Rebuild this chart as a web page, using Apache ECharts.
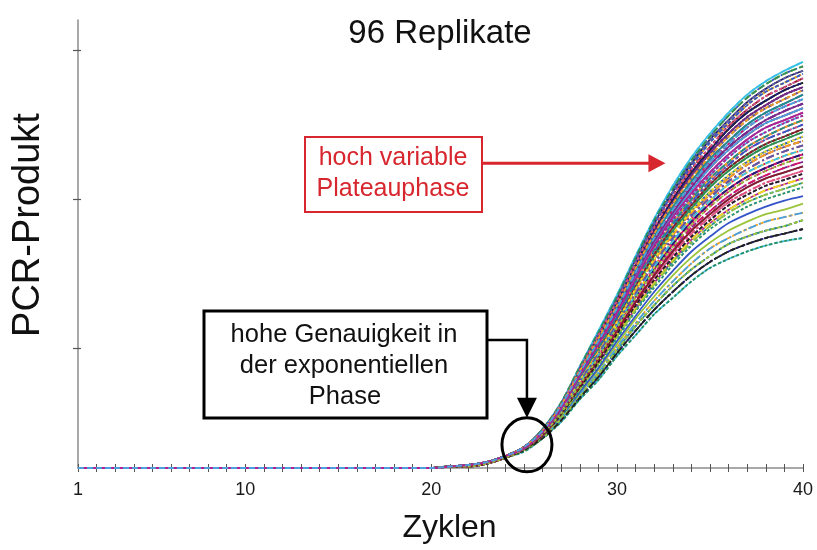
<!DOCTYPE html>
<html>
<head>
<meta charset="utf-8">
<title>96 Replikate</title>
<script src="https://cdn.jsdelivr.net/npm/echarts@6/dist/echarts.min.js"></script>
<style>
  html, body { margin: 0; padding: 0; background: #ffffff; }
  #chart { width: 817px; height: 550px; }
</style>
</head>
<body>
<div id="chart"></div>
<script>
// PCR cycles on the x axis
const cycles = [1,2,3,4,5,6,7,8,9,10,11,12,13,14,15,16,17,18,19,20,
                21,22,23,24,25,26,27,28,29,30,31,32,33,34,35,36,37,38,39,40];
const cycleLabels = [1, 10, 20, 30, 40];
const productTicks = [0.8, 1.8, 2.8];

// Baseline signal, cycles 1-20 (identical for all wells)
const baselineSignal = [0,0,0,0,0,0,0,0,0,0,0,0,0,0,0,0,0,0,0,0];

// Well identifiers of the 96-well plate
const wellIds = [];
['A','B','C','D','E','F','G','H'].forEach(r => { for (let c = 1; c <= 12; c++) wellIds.push(r + c); });

// PCR product per well, cycles 21-40
const wellSignal = [
  [0.01,0.02,0.04,0.08,0.14,0.26,0.44,0.68,0.92,1.16,1.42,1.67,1.89,2.08,2.24,2.38,2.50,2.59,2.66,2.72],
  [0.01,0.01,0.03,0.07,0.13,0.23,0.37,0.56,0.75,0.95,1.15,1.33,1.50,1.65,1.77,1.87,1.95,2.01,2.06,2.10],
  [0.01,0.02,0.04,0.08,0.14,0.25,0.41,0.63,0.84,1.05,1.29,1.51,1.70,1.86,2.01,2.13,2.23,2.31,2.36,2.41],
  [0.01,0.01,0.03,0.07,0.12,0.22,0.35,0.52,0.69,0.87,1.05,1.21,1.36,1.49,1.60,1.68,1.75,1.80,1.84,1.88],
  [0.01,0.02,0.04,0.08,0.14,0.25,0.42,0.65,0.87,1.10,1.35,1.58,1.78,1.96,2.11,2.24,2.35,2.43,2.50,2.55],
  [0.01,0.02,0.04,0.08,0.13,0.24,0.39,0.60,0.79,0.99,1.21,1.42,1.59,1.74,1.88,1.99,2.08,2.15,2.20,2.25],
  [0.01,0.01,0.03,0.07,0.12,0.20,0.32,0.47,0.61,0.77,0.92,1.06,1.18,1.29,1.38,1.45,1.50,1.54,1.57,1.60],
  [0.01,0.02,0.04,0.08,0.14,0.26,0.44,0.68,0.91,1.15,1.41,1.66,1.87,2.06,2.22,2.36,2.48,2.57,2.64,2.69],
  [0.01,0.01,0.03,0.07,0.13,0.22,0.36,0.54,0.72,0.91,1.10,1.27,1.43,1.57,1.68,1.78,1.85,1.91,1.95,1.99],
  [0.01,0.02,0.04,0.08,0.13,0.24,0.39,0.60,0.80,1.00,1.22,1.43,1.61,1.76,1.90,2.01,2.10,2.17,2.22,2.27],
  [0.01,0.02,0.04,0.08,0.14,0.25,0.42,0.64,0.86,1.08,1.32,1.55,1.75,1.92,2.07,2.19,2.30,2.38,2.44,2.50],
  [0.01,0.01,0.03,0.07,0.12,0.21,0.33,0.49,0.64,0.81,0.97,1.12,1.25,1.37,1.47,1.54,1.60,1.65,1.68,1.71],
  [0.01,0.02,0.04,0.08,0.13,0.23,0.39,0.59,0.78,0.98,1.19,1.39,1.56,1.71,1.83,1.94,2.03,2.10,2.15,2.19],
  [0.01,0.02,0.04,0.08,0.14,0.26,0.43,0.67,0.90,1.13,1.39,1.63,1.84,2.02,2.18,2.31,2.43,2.52,2.58,2.64],
  [0.01,0.01,0.03,0.07,0.12,0.22,0.36,0.53,0.70,0.89,1.07,1.24,1.39,1.53,1.64,1.73,1.80,1.86,1.90,1.94],
  [0.01,0.02,0.04,0.08,0.13,0.24,0.40,0.62,0.82,1.03,1.26,1.48,1.66,1.82,1.96,2.08,2.18,2.25,2.31,2.36],
  [0.01,0.01,0.03,0.07,0.11,0.20,0.31,0.46,0.59,0.75,0.89,1.03,1.14,1.25,1.34,1.40,1.45,1.49,1.52,1.54],
  [0.01,0.02,0.04,0.08,0.14,0.25,0.41,0.63,0.84,1.06,1.30,1.52,1.71,1.88,2.03,2.15,2.25,2.33,2.39,2.44],
  [0.01,0.01,0.03,0.07,0.13,0.23,0.38,0.57,0.76,0.96,1.16,1.35,1.52,1.67,1.79,1.90,1.98,2.04,2.09,2.13],
  [0.01,0.02,0.04,0.08,0.14,0.26,0.43,0.67,0.90,1.14,1.40,1.64,1.85,2.04,2.20,2.33,2.45,2.54,2.61,2.66],
  [0.01,0.01,0.03,0.07,0.13,0.22,0.37,0.55,0.73,0.93,1.12,1.30,1.46,1.61,1.72,1.82,1.90,1.96,2.01,2.05],
  [0.01,0.02,0.04,0.08,0.13,0.23,0.39,0.59,0.78,0.98,1.20,1.40,1.57,1.72,1.85,1.96,2.05,2.12,2.17,2.22],
  [0.01,0.02,0.04,0.08,0.14,0.25,0.43,0.66,0.88,1.11,1.36,1.60,1.80,1.98,2.13,2.27,2.38,2.46,2.53,2.58],
  [0.01,0.01,0.03,0.07,0.12,0.20,0.33,0.48,0.63,0.79,0.95,1.09,1.22,1.33,1.42,1.50,1.55,1.59,1.62,1.66],
  [0.01,0.02,0.04,0.08,0.13,0.24,0.40,0.61,0.81,1.02,1.25,1.46,1.64,1.80,1.94,2.05,2.15,2.22,2.28,2.33],
  [0.01,0.02,0.04,0.08,0.14,0.25,0.42,0.65,0.87,1.09,1.34,1.57,1.77,1.94,2.09,2.22,2.33,2.41,2.47,2.53],
  [0.01,0.01,0.03,0.07,0.12,0.22,0.35,0.53,0.70,0.88,1.06,1.23,1.38,1.51,1.62,1.71,1.78,1.83,1.87,1.91],
  [0.01,0.02,0.04,0.08,0.13,0.23,0.38,0.58,0.77,0.97,1.17,1.37,1.54,1.69,1.81,1.92,2.00,2.07,2.12,2.16],
  [0.01,0.02,0.04,0.08,0.14,0.25,0.43,0.66,0.89,1.12,1.37,1.61,1.82,2.00,2.15,2.29,2.40,2.49,2.55,2.61],
  [0.01,0.01,0.03,0.07,0.12,0.21,0.34,0.50,0.66,0.83,1.00,1.15,1.29,1.41,1.51,1.59,1.65,1.70,1.73,1.77],
  [0.01,0.02,0.04,0.08,0.13,0.24,0.40,0.62,0.83,1.04,1.27,1.49,1.68,1.84,1.98,2.10,2.20,2.28,2.33,2.38],
  [0.01,0.02,0.04,0.08,0.13,0.24,0.40,0.61,0.81,1.01,1.24,1.45,1.63,1.78,1.92,2.03,2.13,2.20,2.25,2.30],

  [0.01,0.02,0.04,0.08,0.14,0.25,0.42,0.64,0.85,1.07,1.31,1.54,1.73,1.90,2.05,2.17,2.28,2.36,2.42,2.47],
  [0.01,0.01,0.03,0.07,0.12,0.20,0.32,0.47,0.61,0.77,0.92,1.06,1.18,1.29,1.38,1.45,1.50,1.54,1.57,1.60],
  [0.01,0.01,0.03,0.07,0.13,0.23,0.37,0.56,0.75,0.95,1.15,1.33,1.50,1.65,1.77,1.87,1.95,2.01,2.06,2.10],
  [0.01,0.02,0.04,0.08,0.14,0.26,0.44,0.68,0.91,1.15,1.41,1.66,1.87,2.06,2.22,2.36,2.48,2.57,2.64,2.69],
  [0.01,0.01,0.03,0.07,0.12,0.22,0.36,0.54,0.71,0.90,1.09,1.26,1.41,1.55,1.66,1.76,1.83,1.89,1.93,1.97],
  [0.01,0.02,0.04,0.08,0.13,0.24,0.39,0.60,0.80,1.00,1.22,1.43,1.61,1.76,1.90,2.01,2.10,2.17,2.22,2.27],
  [0.01,0.02,0.04,0.08,0.14,0.25,0.42,0.65,0.87,1.10,1.35,1.58,1.78,1.96,2.11,2.24,2.35,2.43,2.50,2.55],
  [0.01,0.01,0.03,0.07,0.12,0.21,0.34,0.51,0.67,0.85,1.02,1.18,1.32,1.45,1.55,1.64,1.70,1.75,1.79,1.82],
  [0.01,0.02,0.04,0.08,0.13,0.23,0.39,0.59,0.78,0.98,1.19,1.39,1.56,1.71,1.83,1.94,2.03,2.10,2.15,2.19],
  [0.01,0.02,0.04,0.08,0.14,0.25,0.41,0.63,0.84,1.05,1.29,1.51,1.70,1.86,2.01,2.13,2.23,2.31,2.36,2.41],
  [0.01,0.01,0.03,0.07,0.12,0.20,0.33,0.48,0.63,0.79,0.95,1.09,1.22,1.33,1.42,1.50,1.55,1.59,1.62,1.66],
  [0.01,0.02,0.04,0.08,0.14,0.26,0.43,0.67,0.90,1.13,1.39,1.63,1.84,2.02,2.18,2.31,2.43,2.52,2.58,2.64],
  [0.01,0.01,0.03,0.07,0.13,0.22,0.37,0.55,0.73,0.92,1.11,1.29,1.45,1.59,1.70,1.80,1.88,1.94,1.98,2.02],
  [0.01,0.02,0.04,0.08,0.13,0.24,0.39,0.60,0.79,0.99,1.21,1.42,1.59,1.74,1.88,1.99,2.08,2.15,2.20,2.25],
  [0.01,0.02,0.04,0.08,0.14,0.25,0.42,0.64,0.86,1.08,1.32,1.55,1.75,1.92,2.07,2.19,2.30,2.38,2.44,2.50],
  [0.01,0.01,0.03,0.07,0.12,0.21,0.33,0.49,0.64,0.81,0.97,1.12,1.25,1.37,1.47,1.54,1.60,1.65,1.68,1.71],
  [0.01,0.02,0.04,0.08,0.13,0.24,0.40,0.62,0.82,1.03,1.26,1.48,1.66,1.82,1.96,2.08,2.18,2.25,2.31,2.36],
  [0.01,0.02,0.04,0.08,0.14,0.26,0.43,0.67,0.90,1.14,1.40,1.64,1.85,2.04,2.20,2.33,2.45,2.54,2.61,2.66],
  [0.01,0.01,0.03,0.07,0.13,0.23,0.37,0.56,0.74,0.94,1.14,1.32,1.48,1.63,1.75,1.85,1.93,1.99,2.04,2.08],
  [0.01,0.01,0.03,0.07,0.13,0.23,0.38,0.57,0.76,0.96,1.16,1.35,1.52,1.67,1.79,1.90,1.98,2.04,2.09,2.13],
  [0.01,0.02,0.04,0.08,0.14,0.25,0.41,0.63,0.84,1.06,1.30,1.52,1.71,1.88,2.03,2.15,2.25,2.33,2.39,2.44],
  [0.01,0.01,0.03,0.07,0.11,0.20,0.31,0.46,0.59,0.75,0.89,1.03,1.14,1.25,1.34,1.40,1.45,1.49,1.52,1.54],
  [0.01,0.02,0.04,0.08,0.14,0.25,0.43,0.66,0.88,1.11,1.36,1.60,1.80,1.98,2.13,2.27,2.38,2.46,2.53,2.58],
  [0.01,0.02,0.04,0.08,0.13,0.23,0.39,0.59,0.78,0.98,1.20,1.40,1.57,1.72,1.85,1.96,2.05,2.12,2.17,2.22],
  [0.01,0.02,0.04,0.08,0.13,0.24,0.40,0.61,0.81,1.01,1.24,1.45,1.63,1.78,1.92,2.03,2.13,2.20,2.25,2.30],
  [0.01,0.02,0.04,0.08,0.14,0.25,0.43,0.66,0.89,1.12,1.37,1.61,1.82,2.00,2.15,2.29,2.40,2.49,2.55,2.61],
  [0.01,0.01,0.03,0.07,0.12,0.22,0.35,0.52,0.69,0.87,1.05,1.21,1.36,1.49,1.60,1.68,1.75,1.80,1.84,1.88],
  [0.01,0.02,0.04,0.08,0.13,0.24,0.40,0.61,0.81,1.02,1.25,1.46,1.64,1.80,1.94,2.05,2.15,2.22,2.28,2.33],
  [0.01,0.02,0.04,0.08,0.14,0.25,0.42,0.65,0.87,1.09,1.34,1.57,1.77,1.94,2.09,2.22,2.33,2.41,2.47,2.53],
  [0.01,0.01,0.03,0.07,0.12,0.20,0.33,0.48,0.63,0.79,0.95,1.09,1.22,1.33,1.42,1.50,1.55,1.59,1.62,1.66],
  [0.01,0.02,0.04,0.08,0.13,0.23,0.38,0.58,0.77,0.97,1.17,1.37,1.54,1.69,1.81,1.92,2.00,2.07,2.12,2.16],
  [0.01,0.02,0.04,0.08,0.13,0.24,0.40,0.62,0.83,1.04,1.27,1.49,1.68,1.84,1.98,2.10,2.20,2.28,2.33,2.38],

  [0.01,0.02,0.04,0.08,0.14,0.26,0.44,0.68,0.92,1.16,1.42,1.67,1.89,2.08,2.24,2.38,2.50,2.59,2.66,2.72],
  [0.01,0.01,0.03,0.07,0.13,0.23,0.37,0.56,0.75,0.95,1.15,1.33,1.50,1.65,1.77,1.87,1.95,2.01,2.06,2.10],
  [0.01,0.02,0.04,0.08,0.14,0.25,0.42,0.64,0.85,1.07,1.31,1.54,1.73,1.90,2.05,2.17,2.28,2.36,2.42,2.47],
  [0.01,0.01,0.03,0.07,0.12,0.22,0.36,0.53,0.70,0.89,1.07,1.24,1.39,1.53,1.64,1.73,1.80,1.86,1.90,1.94],
  [0.01,0.02,0.04,0.08,0.14,0.25,0.42,0.65,0.87,1.10,1.35,1.58,1.78,1.96,2.11,2.24,2.35,2.43,2.50,2.55],
  [0.01,0.02,0.04,0.08,0.13,0.24,0.39,0.60,0.79,0.99,1.21,1.42,1.59,1.74,1.88,1.99,2.08,2.15,2.20,2.25],
  [0.01,0.01,0.03,0.07,0.12,0.20,0.32,0.47,0.61,0.77,0.92,1.06,1.18,1.29,1.38,1.45,1.50,1.54,1.57,1.60],
  [0.01,0.02,0.04,0.08,0.14,0.26,0.43,0.67,0.90,1.13,1.39,1.63,1.84,2.02,2.18,2.31,2.43,2.52,2.58,2.64],
  [0.01,0.01,0.03,0.07,0.13,0.22,0.36,0.54,0.72,0.91,1.10,1.27,1.43,1.57,1.68,1.78,1.85,1.91,1.95,1.99],
  [0.01,0.02,0.04,0.08,0.13,0.24,0.39,0.60,0.80,1.00,1.22,1.43,1.61,1.76,1.90,2.01,2.10,2.17,2.22,2.27],
  [0.01,0.02,0.04,0.08,0.14,0.25,0.42,0.64,0.86,1.08,1.32,1.55,1.75,1.92,2.07,2.19,2.30,2.38,2.44,2.50],
  [0.01,0.02,0.04,0.08,0.13,0.23,0.39,0.59,0.78,0.98,1.19,1.39,1.56,1.71,1.83,1.94,2.03,2.10,2.15,2.19],
  [0.01,0.02,0.04,0.08,0.14,0.26,0.43,0.67,0.90,1.14,1.40,1.64,1.85,2.04,2.20,2.33,2.45,2.54,2.61,2.66],
  [0.01,0.01,0.03,0.07,0.12,0.22,0.35,0.53,0.70,0.88,1.06,1.23,1.38,1.51,1.62,1.71,1.78,1.83,1.87,1.91],
  [0.01,0.02,0.04,0.08,0.13,0.24,0.40,0.62,0.82,1.03,1.26,1.48,1.66,1.82,1.96,2.08,2.18,2.25,2.31,2.36],
  [0.01,0.02,0.04,0.08,0.14,0.25,0.41,0.63,0.84,1.05,1.29,1.51,1.70,1.86,2.01,2.13,2.23,2.31,2.36,2.41],
  [0.01,0.01,0.03,0.07,0.13,0.23,0.38,0.57,0.76,0.96,1.16,1.35,1.52,1.67,1.79,1.90,1.98,2.04,2.09,2.13],
  [0.01,0.02,0.04,0.08,0.14,0.25,0.43,0.66,0.88,1.11,1.36,1.60,1.80,1.98,2.13,2.27,2.38,2.46,2.53,2.58],
  [0.01,0.01,0.03,0.07,0.13,0.22,0.37,0.55,0.73,0.93,1.12,1.30,1.46,1.61,1.72,1.82,1.90,1.96,2.01,2.05],
  [0.01,0.02,0.04,0.08,0.13,0.23,0.39,0.59,0.78,0.98,1.20,1.40,1.57,1.72,1.85,1.96,2.05,2.12,2.17,2.22],
  [0.01,0.02,0.04,0.08,0.14,0.25,0.41,0.63,0.84,1.06,1.30,1.52,1.71,1.88,2.03,2.15,2.25,2.33,2.39,2.44],
  [0.01,0.02,0.04,0.08,0.14,0.26,0.44,0.68,0.91,1.15,1.41,1.66,1.87,2.06,2.22,2.36,2.48,2.57,2.64,2.69],
  [0.01,0.01,0.03,0.07,0.12,0.22,0.36,0.54,0.71,0.90,1.09,1.26,1.41,1.55,1.66,1.76,1.83,1.89,1.93,1.97],
  [0.01,0.02,0.04,0.08,0.13,0.24,0.40,0.61,0.81,1.01,1.24,1.45,1.63,1.78,1.92,2.03,2.13,2.20,2.25,2.30],
  [0.01,0.02,0.04,0.08,0.14,0.25,0.43,0.66,0.89,1.12,1.37,1.61,1.82,2.00,2.15,2.29,2.40,2.49,2.55,2.61],
  [0.01,0.01,0.03,0.07,0.13,0.22,0.37,0.55,0.73,0.92,1.11,1.29,1.45,1.59,1.70,1.80,1.88,1.94,1.98,2.02],
  [0.01,0.02,0.04,0.08,0.13,0.24,0.40,0.61,0.81,1.02,1.25,1.46,1.64,1.80,1.94,2.05,2.15,2.22,2.28,2.33],
  [0.01,0.02,0.04,0.08,0.14,0.25,0.42,0.65,0.87,1.09,1.34,1.57,1.77,1.94,2.09,2.22,2.33,2.41,2.47,2.53],
  [0.01,0.02,0.04,0.08,0.13,0.23,0.38,0.58,0.77,0.97,1.17,1.37,1.54,1.69,1.81,1.92,2.00,2.07,2.12,2.16],
  [0.01,0.01,0.03,0.07,0.13,0.23,0.37,0.56,0.74,0.94,1.14,1.32,1.48,1.63,1.75,1.85,1.93,1.99,2.04,2.08],
  [0.01,0.02,0.04,0.08,0.13,0.24,0.40,0.62,0.83,1.04,1.27,1.49,1.68,1.84,1.98,2.10,2.20,2.28,2.33,2.38],
  [0.01,0.02,0.04,0.08,0.14,0.25,0.42,0.64,0.85,1.07,1.31,1.54,1.73,1.90,2.05,2.17,2.28,2.36,2.42,2.47]
];

// Line colours and dash patterns, cycled over the wells
const lineColors = ['#39c0e6','#1c1c7a','#d4146a','#f2dd1f','#7a2a8c','#2a8c5a','#222222','#3454c8',
                    '#e0507f','#8a1a2a','#1d8f8f','#f0a020','#5c5ca8','#9ac43a','#b02090','#4aa0e0'];
const lineDashes = [[6, 3], [4, 2], [8, 3, 2, 3], [3, 2], 'solid'];

const FONT = '"Liberation Sans", Arial, Helvetica, sans-serif';
const AXIS_GREY = '#8c8c8c';
const TICK_GREY = '#555555';

const chart = echarts.init(document.getElementById('chart'), null, { renderer: 'canvas' });

const series = wellSignal.map((row, i) => ({
  type: 'line',
  name: wellIds[i],
  xAxisIndex: 0,
  yAxisIndex: 0,
  showSymbol: false,
  symbol: 'none',
  smooth: 0.3,
  silent: true,
  lineStyle: { color: lineColors[i % lineColors.length], width: 1.8, type: lineDashes[i % lineDashes.length] },
  data: cycles.map((c, j) => [c, j < baselineSignal.length ? baselineSignal[j] : row[j - baselineSignal.length]])
}));

const option = {
  animation: false,
  backgroundColor: '#ffffff',
  textStyle: { fontFamily: FONT },
  grid: { left: 78, right: 14, top: 20, bottom: 82, containLabel: false },
  xAxis: [
    {
      type: 'value', position: 'bottom', min: 1, max: 40, interval: 1,
      name: 'Zyklen', nameLocation: 'middle', nameGap: 44,
      nameTextStyle: { fontSize: 32, color: '#111111', fontFamily: FONT, padding: [0, 0, 0, 18] },
      axisLine: { show: true, lineStyle: { color: AXIS_GREY, width: 1.5 } },
      axisTick: { show: true, length: 4, lineStyle: { color: TICK_GREY, width: 1 } },
      axisLabel: {
        fontSize: 18, color: '#1a1a1a', fontFamily: FONT, margin: 13,
        formatter: v => (cycleLabels.indexOf(v) >= 0 ? String(v) : '')
      },
      splitLine: { show: false }
    },
    {
      type: 'value', position: 'bottom', min: 1, max: 40, interval: 1,
      axisLine: { show: false },
      axisTick: { show: true, inside: true, length: 4, lineStyle: { color: TICK_GREY, width: 1 } },
      axisLabel: { show: false },
      splitLine: { show: false }
    }
  ],
  yAxis: [
    {
      type: 'value', position: 'left', min: 0, max: 3,
      name: 'PCR-Produkt', nameLocation: 'middle', nameRotate: 90, nameGap: 30,
      nameTextStyle: { fontSize: 38, color: '#111111', fontFamily: FONT, padding: [0, 0, 0, 38] },
      axisLine: { show: true, lineStyle: { color: AXIS_GREY, width: 1.5 } },
      axisTick: { show: true, length: 5, customValues: productTicks, lineStyle: { color: TICK_GREY, width: 1.2 } },
      axisLabel: { show: false },
      splitLine: { show: false }
    },
    {
      type: 'value', position: 'left', min: 0, max: 3,
      axisLine: { show: false },
      axisTick: { show: true, inside: true, length: 3, customValues: productTicks, lineStyle: { color: TICK_GREY, width: 1.2 } },
      axisLabel: { show: false },
      splitLine: { show: false }
    }
  ],
  series: series
};

chart.setOption(option);

// Annotations: title, plateau note, exponential-phase note with circle
const RED = '#d7262e';
const circleCenter = chart.convertToPixel({ gridIndex: 0 }, [25.15, 0.155]);
const plateauTip = chart.convertToPixel({ gridIndex: 0 }, [32.6, 2.04]);
const circleRx = 25, circleRy = 27;

chart.setOption({
  graphic: [
    {
      type: 'text', z: 100,
      style: { text: '96 Replikate', x: 440, y: 34, align: 'center', verticalAlign: 'middle',
               font: '33px ' + FONT, fill: '#111111' }
    },
    // red note: highly variable plateau
    {
      type: 'rect', z: 100,
      shape: { x: 305, y: 137, width: 177, height: 75 },
      style: { fill: '#ffffff', stroke: RED, lineWidth: 2 }
    },
    {
      type: 'text', z: 101,
      style: { text: 'hoch variable', x: 393, y: 158, align: 'center', verticalAlign: 'middle',
               font: '25px ' + FONT, fill: RED }
    },
    {
      type: 'text', z: 101,
      style: { text: 'Plateauphase', x: 393, y: 189, align: 'center', verticalAlign: 'middle',
               font: '25px ' + FONT, fill: RED }
    },
    {
      type: 'line', z: 100,
      shape: { x1: 482, y1: plateauTip[1], x2: plateauTip[0] - 14, y2: plateauTip[1] },
      style: { stroke: RED, lineWidth: 3 }
    },
    {
      type: 'polygon', z: 100,
      shape: { points: [[plateauTip[0] - 17, plateauTip[1] - 9], [plateauTip[0] - 17, plateauTip[1] + 9], [plateauTip[0], plateauTip[1]]] },
      style: { fill: RED }
    },
    // black note: high precision in the exponential phase
    {
      type: 'rect', z: 100,
      shape: { x: 204, y: 311, width: 283, height: 107 },
      style: { fill: '#ffffff', stroke: '#000000', lineWidth: 3 }
    },
    {
      type: 'text', z: 101,
      style: { text: 'hohe Genauigkeit in', x: 344, y: 335, align: 'center', verticalAlign: 'middle',
               font: '25.5px ' + FONT, fill: '#111111' }
    },
    {
      type: 'text', z: 101,
      style: { text: 'der exponentiellen', x: 344, y: 366, align: 'center', verticalAlign: 'middle',
               font: '25.5px ' + FONT, fill: '#111111' }
    },
    {
      type: 'text', z: 101,
      style: { text: 'Phase', x: 345, y: 397, align: 'center', verticalAlign: 'middle',
               font: '25.5px ' + FONT, fill: '#111111' }
    },
    {
      type: 'polyline', z: 100,
      shape: { points: [[487, 340], [circleCenter[0], 340], [circleCenter[0], circleCenter[1] - circleRy - 18]] },
      style: { stroke: '#000000', lineWidth: 2.5, fill: null }
    },
    {
      type: 'polygon', z: 100,
      shape: { points: [[circleCenter[0] - 10, circleCenter[1] - circleRy - 20], [circleCenter[0] + 10, circleCenter[1] - circleRy - 20], [circleCenter[0], circleCenter[1] - circleRy]] },
      style: { fill: '#000000' }
    },
    {
      type: 'ellipse', z: 100,
      shape: { cx: circleCenter[0], cy: circleCenter[1], rx: circleRx, ry: circleRy },
      style: { fill: null, stroke: '#000000', lineWidth: 3 }
    }
  ]
});
</script>
</body>
</html>
